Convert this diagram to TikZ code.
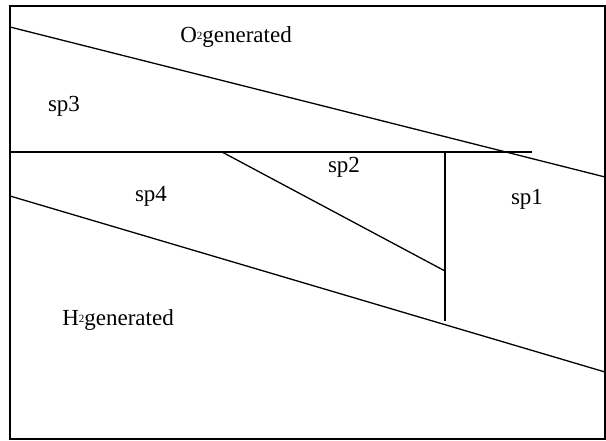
\documentclass[tikz,border=0pt]{standalone}
\usepackage{fontspec}
\setmainfont{Liberation Serif}
\newcommand{\smalltwo}{\raisebox{0.12em}{\fontsize{11}{11}\selectfont 2}}
\begin{document}
\begin{tikzpicture}[x=1pt,y=-1pt,
  edge/.style={line width=1.3pt,black},
  lbl/.style={font=\fontsize{23}{23}\selectfont,inner sep=0pt,anchor=center}]
\useasboundingbox (0,0) rectangle (606,441);
% frame
\coordinate (tl) at (10,6);
\coordinate (br) at (605,439);
\draw[line width=1.5pt] (tl) rectangle (br);
% top diagonal
\coordinate (a1) at (10,27);
\coordinate (a2) at (605,177);
\draw[edge] (a1) -- (a2);
% horizontal
\coordinate (h1) at (10,152);
\coordinate (h2) at (532,152);
\draw[edge] (h1) -- (h2);
% sp2 diagonal
\coordinate (d1) at (222,152);
\coordinate (d2) at (445,271);
\draw[edge] (d1) -- (d2);
% vertical
\coordinate (v1) at (445,152);
\coordinate (v2) at (445,321);
\draw[edge] (v1) -- (v2);
% bottom diagonal
\coordinate (b1) at (10,196);
\coordinate (b2) at (605,372);
\draw[edge] (b1) -- (b2);
% labels
\node[lbl] (o2) at (236,37) {O\smalltwo generated};
\node[lbl] (sp3) at (64,106) {sp3};
\node[lbl] (sp4) at (151,196) {sp4};
\node[lbl] (sp2) at (344,167) {sp2};
\node[lbl] (sp1) at (527,199) {sp1};
\node[lbl] (h2g) at (118,320) {H\smalltwo generated};
\end{tikzpicture}
\end{document}
